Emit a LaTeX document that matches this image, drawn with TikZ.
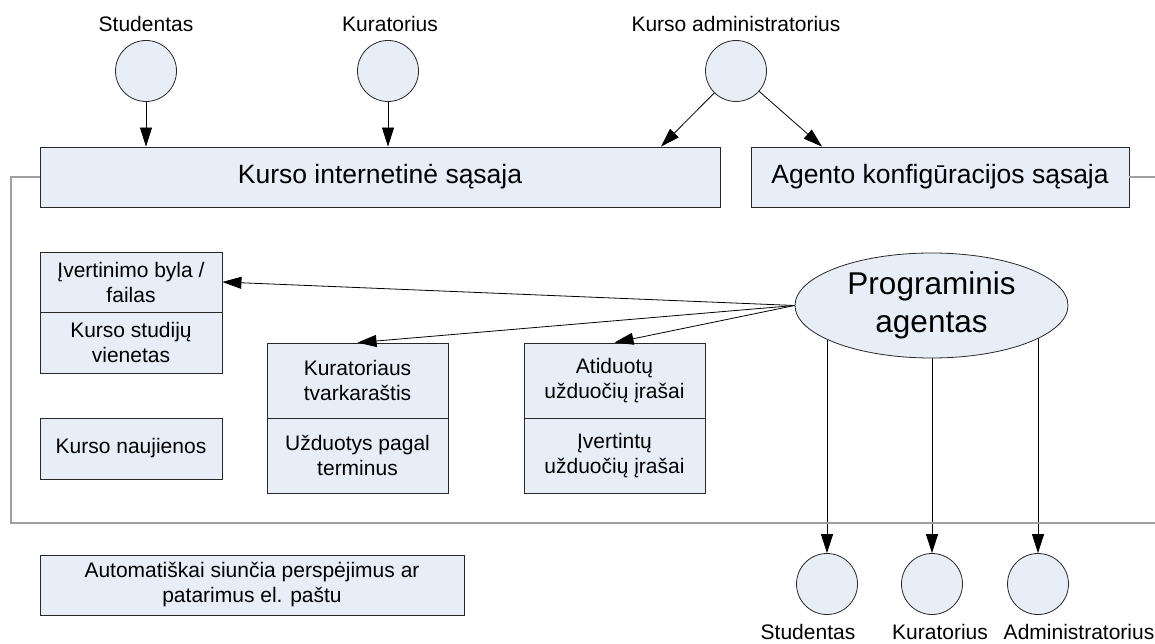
\documentclass[tikz,border=0pt]{standalone}
\usepackage{fontspec}
\setmainfont{Liberation Sans}
\usetikzlibrary{arrows.meta,shapes.geometric,backgrounds}

\definecolor{paleblue}{RGB}{232,238,247}
\definecolor{framegrey}{RGB}{160,160,160}
\definecolor{edgegrey}{RGB}{40,40,40}

\tikzset{
  txt/.style={font=\fontsize{21}{25}\selectfont, align=center, inner sep=0pt},
  bigtxt/.style={font=\fontsize{26.5}{31}\selectfont},
  box/.style={draw=edgegrey, line width=0.8pt, fill=paleblue, rectangle,
              inner sep=0pt, txt},
  actor/.style={draw=edgegrey, line width=0.8pt, fill=paleblue, ellipse,
                minimum width=61pt, minimum height=61pt, inner sep=0pt},
  agentshape/.style={draw=edgegrey, line width=0.8pt, fill=paleblue, ellipse,
                     minimum width=273pt, minimum height=105pt, inner sep=0pt,
                     align=center, font=\fontsize{31.5}{38}\selectfont},
  arr/.style={line width=0.8pt, -{Triangle[length=19pt,width=12pt]}},
  frameline/.style={draw=framegrey, line width=1.2pt}
}

\begin{document}
\begin{tikzpicture}[x=1pt, y=-1pt]
  \useasboundingbox (0,0) rectangle (1155,644);

  % actors at the top
  \node[txt] (lblStud) at (146,24) {Studentas};
  \node[actor] (cStud) at (146,71) {};
  \node[txt] (lblKur) at (390,24) {Kuratorius};
  \node[actor] (cKur) at (388,71) {};
  \node[txt] (lblAdm) at (736,24) {Kurso administratorius};
  \node[actor] (cAdm) at (736,71) {};

  % interfaces
  \node[box, bigtxt, minimum width=680pt, minimum height=60pt] (web) at (380,177)
    {Kurso internetinė sąsaja};
  \node[box, bigtxt, minimum width=378pt, minimum height=60pt] (cfg) at (940,177)
    {Agento konfigūracijos sąsaja};

  % enclosing frame
  \coordinate (frameBL) at (11,523);
  \coordinate (frameBR) at (1155,523);
  \draw[frameline] (web.west) -| (frameBL) -- (frameBR);
  \draw[frameline] (cfg.east) -- (cfg.east -| frameBR);

  % data inside the course system
  \node[box, minimum width=182pt, minimum height=60pt] (grade) at (131,282)
    {Įvertinimo byla /\\failas};
  \node[box, minimum width=182pt, minimum height=61pt] (unit) at (131,342.5)
    {Kurso studijų\\vienetas};
  \node[box, minimum width=182pt, minimum height=61pt] (news) at (131,448.5)
    {Kurso naujienos};

  \node[box, minimum width=181pt, minimum height=75pt] (sched) at (357.5,380.5)
    {Kuratoriaus\\tvarkaraštis};
  \node[box, minimum width=181pt, minimum height=75pt] (dead) at (357.5,455.5)
    {Užduotys pagal\\terminus};

  \node[box, minimum width=181pt, minimum height=75pt] (subm) at (614.5,380.5)
    {Atiduotų\\užduočių įrašai};
  \node[box, minimum width=181pt, minimum height=75pt] (eval) at (614.5,455.5)
    {Įvertintų\\užduočių įrašai};

  % the software agent
  \node[agentshape] (agent) at (931.5,305.5) {Programinis\\agentas};

  % notification box
  \node[box, minimum width=424pt, minimum height=60pt] (mail) at (252,585)
    {Automatiškai siunčia perspėjimus ar\\patarimus el. paštu};

  % recipients
  \node[actor] (rStud) at (827,584) {};
  \node[actor] (rKur) at (932,584) {};
  \node[actor] (rAdm) at (1038,584) {};
  \node[txt] (lblRStud) at (808,632) {Studentas};
  \node[txt] (lblRKur) at (940,632) {Kuratorius};
  \node[txt] (lblRAdm) at (1079,632) {Administratorius};

  % connectors
  \draw[arr] (cStud) -- (cStud |- web.north);
  \draw[arr] (cKur) -- (cKur |- web.north);
  \draw[arr] (cAdm) -- ([xshift=281pt]web.north);
  \draw[arr] (cAdm) -- ([xshift=-118pt]cfg.north);

  \draw[arr] (agent.west) -- (grade.east);
  \draw[arr] (agent.west) -- (sched.north);
  \draw[arr] (agent.west) -- (subm.north);

  \begin{scope}[on background layer]
    \draw[arr] (agent.center -| rStud) -- (rStud.north);
    \draw[arr] (agent.center -| rKur) -- (rKur.north);
    \draw[arr] (agent.center -| rAdm) -- (rAdm.north);
  \end{scope}
\end{tikzpicture}
\end{document}
